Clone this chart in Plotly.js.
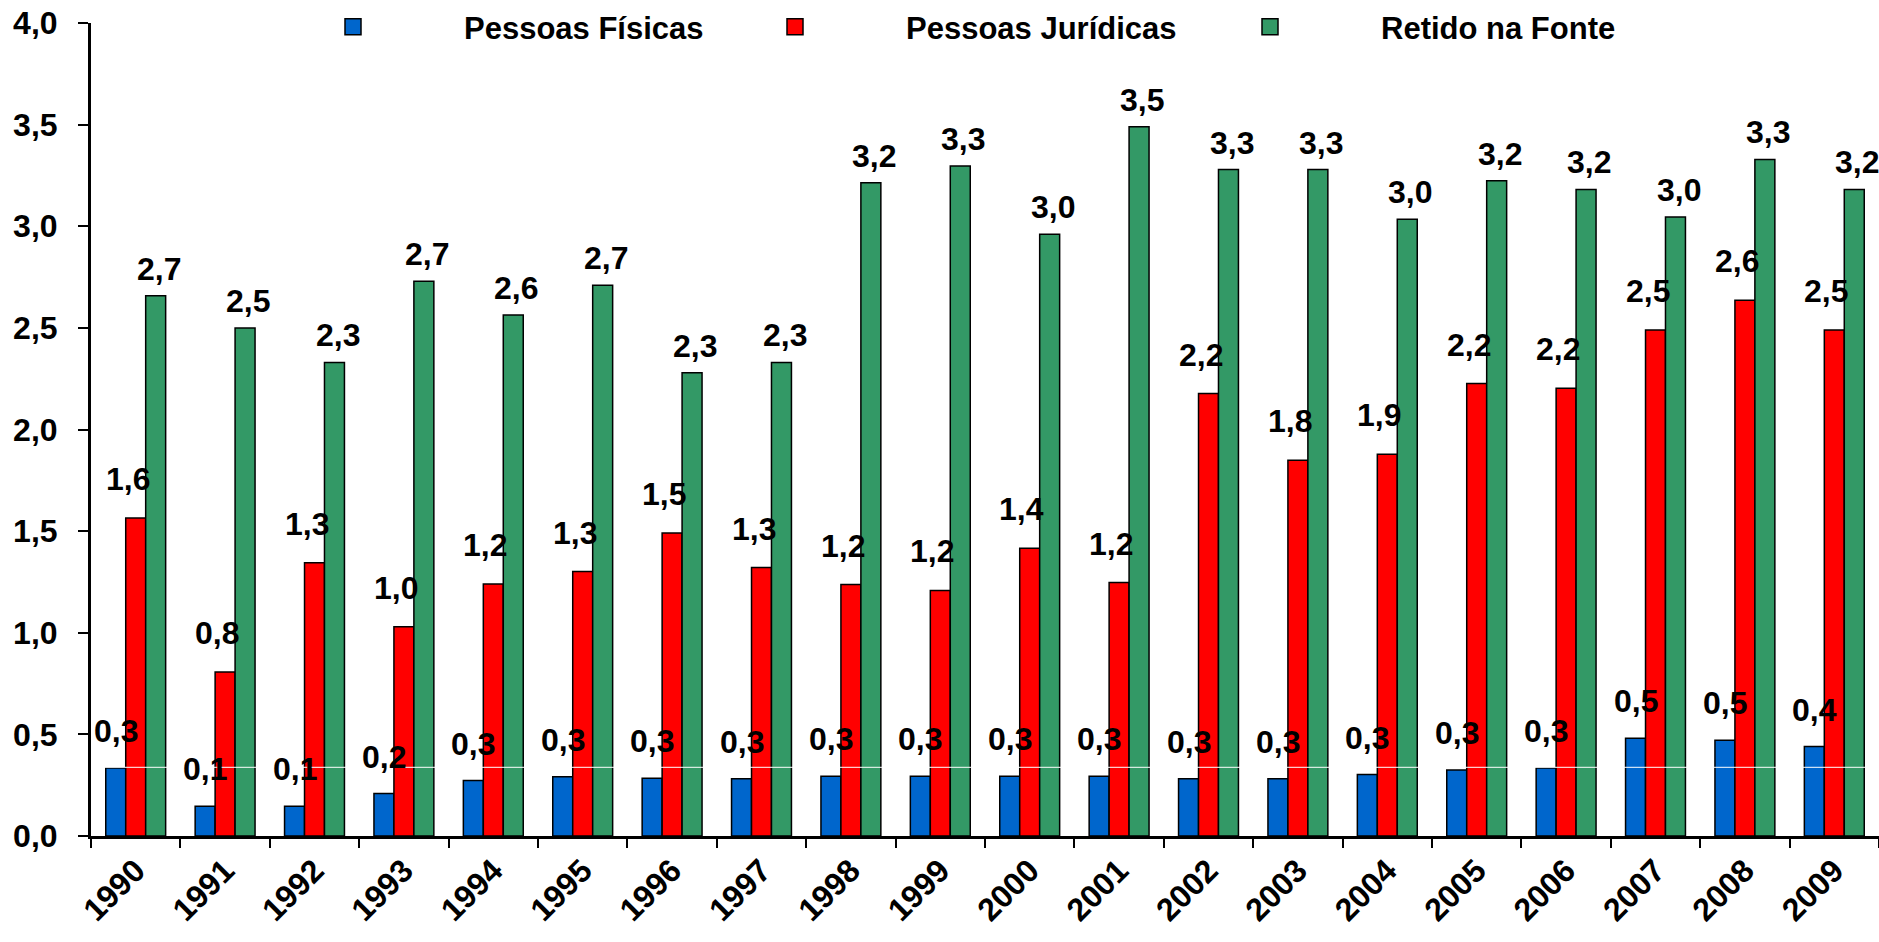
<!DOCTYPE html>
<html>
<head>
<meta charset="utf-8">
<script src="https://cdn.plot.ly/plotly-3.0.1.min.js"></script>
<style>
  html, body { margin: 0; padding: 0; background: #fff; }
  #chart { width: 1879px; height: 942px; }
</style>
</head>
<body>
<div id="chart"></div>
<script>
// Anos (categorias)
const anos = ['1990', '1991', '1992', '1993', '1994', '1995', '1996', '1997', '1998', '1999',
              '2000', '2001', '2002', '2003', '2004', '2005', '2006', '2007', '2008', '2009'];

// Séries (%)
const pessoasFisicas = [0.335, 0.146, 0.146, 0.209, 0.273, 0.292, 0.284, 0.282, 0.294, 0.294,
                        0.294, 0.294, 0.282, 0.282, 0.302, 0.325, 0.335, 0.481, 0.471, 0.440];
const pessoasJuridicas = [1.565, 0.807, 1.344, 1.029, 1.240, 1.301, 1.491, 1.321, 1.237, 1.208,
                          1.416, 1.247, 2.177, 1.849, 1.878, 2.226, 2.203, 2.489, 2.636, 2.489];
const retidoNaFonte = [2.658, 2.499, 2.330, 2.730, 2.563, 2.710, 2.279, 2.330, 3.214, 3.296,
                       2.961, 3.489, 3.279, 3.279, 3.035, 3.224, 3.181, 3.046, 3.329, 3.181];

const FONT = 'Liberation Sans, Arial, sans-serif';
const barLine = { color: '#000000', width: 1.5 };

// cada série tem sua própria legenda, para posicionar como no original
const series = [
    { name: 'Pessoas Físicas', y: pessoasFisicas, color: '#0066CC', xshift: -20, yshift: 17, legend: 'legend', legendX: 242 },
    { name: 'Pessoas Jurídicas', y: pessoasJuridicas, color: '#FF0000', xshift: -8, yshift: 19, legend: 'legend2', legendX: 684 },
    { name: 'Retido na Fonte', y: retidoNaFonte, color: '#339966', xshift: 23, yshift: 7, legend: 'legend3', legendX: 1159 }
];

const traces = series.map(s => ({
    type: 'bar',
    name: s.name,
    x: anos,
    y: s.y,
    marker: { color: s.color, line: barLine },
    showlegend: false,
    hoverinfo: 'x+y+name'
}));

// entradas de legenda com quadrado maior (o ícone de barra do Plotly é pequeno)
series.forEach(s => {
    traces.push({
        type: 'scatter',
        mode: 'markers',
        name: s.name,
        x: [anos[0]],
        y: [null],
        marker: { symbol: 'square', size: 17, color: s.color, line: { color: '#000', width: 1.5 } },
        legend: s.legend,
        showlegend: true,
        hoverinfo: 'skip'
    });
});

// Rótulos de dados (estilo Excel, levemente deslocados)
// no eixo de categorias a anotação usa o índice da categoria
const annotations = [];
series.forEach(s => {
    s.y.forEach((v, i) => {
        annotations.push({
            x: i, y: v, xref: 'x', yref: 'y',
            text: v.toFixed(1).replace('.', ','),
            showarrow: false,
            yanchor: 'bottom',
            xshift: s.xshift,
            yshift: s.yshift,
            font: { family: FONT, size: 32, weight: 'bold', color: '#000' }
        });
    });
});

function legendAt(px) {
    return {
        orientation: 'h',
        xref: 'container', yref: 'container',
        x: px / 1879, y: 1, xanchor: 'left', yanchor: 'top',
        itemwidth: 212,
        font: { family: FONT, size: 31, weight: 'bold', color: '#000' },
        bgcolor: 'rgba(0,0,0,0)'
    };
}

const layout = {
    width: 1879,
    height: 942,
    paper_bgcolor: '#ffffff',
    plot_bgcolor: '#ffffff',
    separators: ',.',
    font: { family: FONT, size: 32, weight: 'bold', color: '#000' },
    barmode: 'group',
    bargap: 0.33,
    bargroupgap: 0,
    margin: { l: 91, r: 0, t: 23, b: 106, autoexpand: false },
    showlegend: true,
    legend: legendAt(series[0].legendX),
    legend2: legendAt(series[1].legendX),
    legend3: legendAt(series[2].legendX),
    xaxis: {
        type: 'category',
        range: [-0.5, anos.length - 0.5],
        tickson: 'boundaries',
        ticks: 'outside',
        ticklen: 9,
        tickwidth: 2,
        tickcolor: '#000',
        showline: true,
        linewidth: 3,
        linecolor: '#000',
        tickangle: -45,
        showgrid: false,
        tickfont: { family: FONT, size: 32, weight: 'bold', color: '#000' }
    },
    yaxis: {
        range: [0, 4],
        dtick: 0.5,
        tick0: 0,
        tickformat: '.1f',
        ticks: 'outside',
        ticklen: 10,
        tickwidth: 2,
        tickcolor: '#000',
        showline: true,
        linewidth: 3,
        linecolor: '#000',
        showgrid: false,
        zeroline: false,
        ticklabelstandoff: 14,
        tickfont: { family: FONT, size: 32, weight: 'bold', color: '#000' }
    },
    annotations: annotations,
    // fina linha branca que aparece no original, cortando as barras
    shapes: [{
        type: 'line', xref: 'paper', x0: 0, x1: 0.993,
        yref: 'y', y0: 0.338, y1: 0.338,
        line: { color: '#ffffff', width: 1 },
        layer: 'above'
    }]
};

Plotly.newPlot('chart', traces, layout, { displayModeBar: false, staticPlot: true });
</script>
</body>
</html>
